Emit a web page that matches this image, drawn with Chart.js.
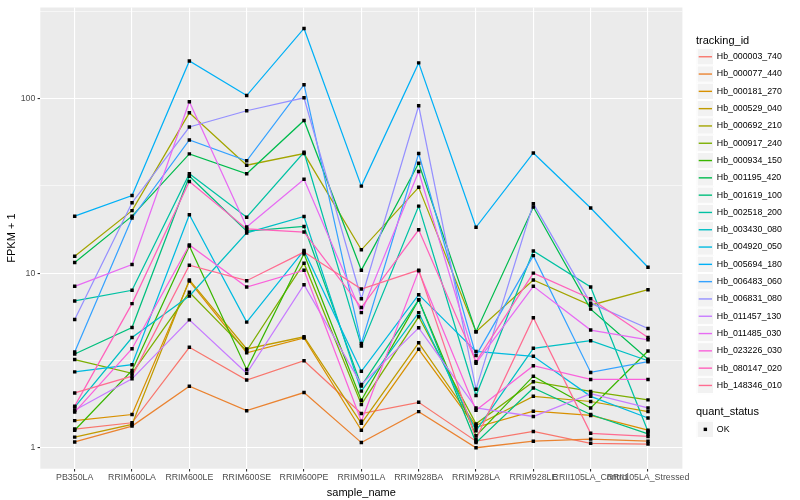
<!DOCTYPE html>
<html>
<head>
<meta charset="utf-8">
<script src="https://cdn.jsdelivr.net/npm/chart.js@4.4.0/dist/chart.umd.min.js"></script>
<style>
  html, body { margin: 0; padding: 0; background: #fff; }
  #wrap { width: 800px; height: 500px; }
</style>
</head>
<body>
<div id="wrap"><canvas id="chart" width="800" height="500"></canvas></div>
<script>
// Categories on the x axis.
const SAMPLES = ['PB350LA', 'RRIM600LA', 'RRIM600LE', 'RRIM600SE', 'RRIM600PE', 'RRIM901LA',
                 'RRIM928BA', 'RRIM928LA', 'RRIM928LE', 'RRII105LA_Control', 'RRII105LA_Stressed'];

const TRACKING_IDS = ['Hb_000003_740', 'Hb_000077_440', 'Hb_000181_270', 'Hb_000529_040', 'Hb_000692_210',
                      'Hb_000917_240', 'Hb_000934_150', 'Hb_001195_420', 'Hb_001619_100', 'Hb_002518_200',
                      'Hb_003430_080', 'Hb_004920_050', 'Hb_005694_180', 'Hb_006483_060', 'Hb_006831_080',
                      'Hb_011457_130', 'Hb_011485_030', 'Hb_023226_030', 'Hb_080147_020', 'Hb_148346_010'];

// FPKM + 1, one array per gene, in SAMPLES order.
const hb000003_740 = [1.28, 1.39, 3.76, 2.44, 3.15, 1.57, 1.82, 1.09, 1.24, 1.06, 1.05];
const hb000077_440 = [1.08, 1.33, 2.25, 1.63, 2.07, 1.07, 1.61, 1.00, 1.09, 1.12, 1.09];
const hb000181_270 = [1.43, 1.55, 9.0, 3.50, 4.25, 1.26, 3.66, 1.31, 1.62, 1.53, 1.26];
const hb000529_040 = [1.15, 1.36, 9.14, 3.68, 4.32, 1.38, 3.99, 1.34, 1.97, 1.84, 1.61];
const hb000692_210 = [12.5, 22.8, 82.8, 41.5, 48.4, 13.6, 31.0, 4.62, 9.14, 6.55, 8.04];
const hb000917_240 = [3.2, 2.67, 7.77, 3.59, 11.4, 1.77, 5.62, 1.37, 2.39, 2.10, 1.88];
const hb000934_150 = [1.26, 2.77, 14.3, 2.81, 12.9, 1.87, 7.03, 1.17, 2.57, 1.69, 3.58];
const hb001195_420 = [11.5, 21.2, 48.2, 37.1, 74.9, 10.4, 42.6, 4.62, 23.9, 6.22, 3.21];
const hb001619_100 = [3.44, 4.88, 35.9, 17.4, 18.5, 2.26, 7.03, 1.07, 2.2, 1.55, 1.2];
const hb002518_200 = [6.93, 7.98, 37.1, 20.9, 49.2, 3.83, 24.2, 1.99, 13.4, 8.33, 1.24];
const hb003430_080 = [1.71, 4.28, 7.4, 17.0, 21.1, 2.11, 5.94, 1.25, 3.71, 4.10, 3.15];
const hb004920_050 = [2.72, 2.99, 21.6, 5.24, 13.5, 2.74, 7.53, 3.56, 3.34, 1.97, 1.48];
const hb005694_180 = [21.2, 27.8, 164, 104, 252, 31.5, 160, 18.3, 48.8, 23.6, 10.8];
const hb006483_060 = [3.53, 20.7, 57.9, 44.0, 120, 3.96, 48.4, 3.37, 12.6, 2.70, 3.11];
const hb006831_080 = [5.42, 25.3, 68.7, 85.1, 101, 7.14, 90.8, 2.16, 25.0, 6.73, 4.82];
const hb011457_130 = [1.64, 2.48, 5.4, 2.67, 8.59, 2.30, 4.86, 1.69, 1.51, 2.04, 1.69];
const hb011485_030 = [8.4, 11.2, 95.8, 18.4, 34.5, 5.94, 38.2, 3.05, 8.41, 4.72, 4.15];
const hb023226_030 = [1.60, 3.69, 14.5, 8.33, 10.4, 1.42, 10.3, 1.64, 2.95, 2.46, 2.46];
const hb080147_020 = [1.73, 6.69, 33.5, 17.9, 17.2, 6.35, 17.7, 3.11, 10.0, 7.14, 4.28];
const hb148346_010 = [2.06, 2.57, 11.1, 9.05, 13.2, 8.11, 10.4, 1.12, 5.55, 1.21, 1.16];

const SERIES = [hb000003_740, hb000077_440, hb000181_270, hb000529_040, hb000692_210,
                hb000917_240, hb000934_150, hb001195_420, hb001619_100, hb002518_200,
                hb003430_080, hb004920_050, hb005694_180, hb006483_060, hb006831_080,
                hb011457_130, hb011485_030, hb023226_030, hb080147_020, hb148346_010];

// y axis breaks (labelled) and minor breaks (grid only).
const Y_BREAKS = [1, 10, 100];
const Y_MINOR  = [0.3162, 3.162, 31.62, 316.2];

// ggplot default hue palette for 20 levels.
const PALETTE = ['#F8766D', '#EA8331', '#D89000', '#C09B00', '#A3A500', '#7CAE00', '#39B600', '#00BB4E',
                 '#00BF7D', '#00C1A3', '#00BFC4', '#00BAE0', '#00B0F6', '#35A2FF', '#9590FF', '#C77CFF',
                 '#E76BF3', '#FA62DB', '#FF62BC', '#FF6C91'];

const FONT = '"Liberation Sans", Arial, Helvetica, sans-serif';

// Log range of the data plus ggplot's 5% expansion.
const allLogs = SERIES.flat().map(v => Math.log10(v));
const lo = Math.min(...allLogs), hi = Math.max(...allLogs);
const pad = (hi - lo) * 0.05;

// Grey panel behind the grid.
const panelBg = {
    id: 'panelBg',
    beforeDraw(chart) {
        const { ctx, chartArea: a } = chart;
        ctx.save();
        ctx.fillStyle = '#FFFFFF';
        ctx.fillRect(0, 0, chart.width, chart.height);
        ctx.fillStyle = '#EBEBEB';
        ctx.fillRect(a.left, a.top, a.right - a.left, a.bottom - a.top);
        ctx.restore();
    }
};

// ggplot style legend on the right: tracking_id keys, then quant_status.
const ggLegend = {
    id: 'ggLegend',
    afterDraw(chart) {
        const ctx = chart.ctx;
        const keyX = 696.7, keySize = 17.3, firstTop = 48.1, textX = 716.8;
        ctx.save();
        ctx.textBaseline = 'middle';
        ctx.textAlign = 'left';

        ctx.fillStyle = '#000';
        ctx.font = `11px ${FONT}`;
        ctx.fillText('tracking_id', 696, 40.5);

        ctx.font = `8.8px ${FONT}`;
        TRACKING_IDS.forEach((id, i) => {
            const top = firstTop + i * keySize;
            ctx.fillStyle = '#F2F2F2';
            ctx.fillRect(keyX, top, keySize, keySize);
            ctx.strokeStyle = '#FFFFFF';
            ctx.lineWidth = 1;
            ctx.strokeRect(keyX + 0.5, top + 0.5, keySize - 1, keySize - 1);

            ctx.strokeStyle = PALETTE[i];
            ctx.lineWidth = 1.4;
            ctx.beginPath();
            ctx.moveTo(keyX + 2, top + keySize / 2);
            ctx.lineTo(keyX + keySize - 2, top + keySize / 2);
            ctx.stroke();

            ctx.fillStyle = '#000';
            ctx.fillText(id, textX, top + keySize / 2);
        });

        const qTitleY = 412.3;
        ctx.font = `11px ${FONT}`;
        ctx.fillText('quant_status', 696, qTitleY);

        const qTop = 420.7;
        ctx.fillStyle = '#F2F2F2';
        ctx.fillRect(keyX, qTop, keySize, keySize);
        ctx.strokeStyle = '#FFFFFF';
        ctx.lineWidth = 1;
        ctx.strokeRect(keyX + 0.5, qTop + 0.5, keySize - 1, keySize - 1);
        ctx.fillStyle = '#000';
        ctx.fillRect(keyX + keySize / 2 - 1.7, qTop + keySize / 2 - 1.7, 3.4, 3.4);
        ctx.font = `8.8px ${FONT}`;
        ctx.fillText('OK', textX, qTop + keySize / 2);
        ctx.restore();
    }
};

const lineSets = SERIES.map((vals, i) => ({
    label: TRACKING_IDS[i],
    data: vals.map((v, j) => ({ x: j, y: v })),
    borderColor: PALETTE[i],
    borderWidth: 1.25,
    pointRadius: 0,
    fill: false,
    tension: 0,
    order: SERIES.length - i
}));

// All the points go on top of all lines, as in geom_point after geom_line.
const pointSet = {
    label: 'OK',
    data: SERIES.flatMap(vals => vals.map((v, j) => ({ x: j, y: v }))),
    showLine: false,
    pointStyle: 'rect',
    pointRadius: 2.45,
    pointBackgroundColor: '#000',
    pointBorderWidth: 0,
    order: -1
};

new Chart(document.getElementById('chart'), {
    type: 'line',
    data: { datasets: [...lineSets, pointSet] },
    plugins: [panelBg, ggLegend],
    options: {
        responsive: false,
        animation: false,
        layout: { padding: { left: 0, right: 117.6, top: 5.5, bottom: 0 } },
        plugins: { legend: { display: false }, tooltip: { enabled: false } },
        scales: {
            x: {
                type: 'linear',
                min: -0.6,
                max: SAMPLES.length - 1 + 0.6,
                afterBuildTicks: s => { s.ticks = SAMPLES.map((_, i) => ({ value: i })); },
                afterFit: s => { s.height = 31.3; },
                ticks: {
                    callback: v => SAMPLES[v] ?? '',
                    autoSkip: false, maxRotation: 0, minRotation: 0,
                    color: '#4D4D4D', font: { family: FONT, size: 8.8 }, padding: 1
                },
                grid: { color: '#FFFFFF', lineWidth: 1.1, tickColor: '#333333', tickLength: 2.7 },
                border: { display: false },
                title: { display: true, text: 'sample_name', color: '#000',
                         font: { family: FONT, size: 11 }, padding: { top: 5.4, bottom: 0 } }
            },
            y: {
                type: 'logarithmic',
                min: Math.pow(10, lo - pad),
                max: Math.pow(10, hi + pad),
                afterBuildTicks: s => {
                    s.ticks = [...Y_MINOR, ...Y_BREAKS]
                        .filter(v => v >= s.min && v <= s.max)
                        .sort((a, b) => a - b)
                        .map(v => ({ value: v }));
                },
                afterFit: s => { s.width = 40.3; },
                ticks: {
                    callback: v => Y_BREAKS.includes(v) ? String(v) : '',
                    autoSkip: false,
                    color: '#4D4D4D', font: { family: FONT, size: 8.8 }, padding: 2.2
                },
                grid: {
                    color: '#FFFFFF',
                    lineWidth: c => (c.tick && Y_BREAKS.includes(c.tick.value)) ? 1.1 : 0.55,
                    tickColor: c => (c.tick && Y_BREAKS.includes(c.tick.value)) ? '#333333' : 'rgba(0,0,0,0)',
                    tickLength: 2.7
                },
                border: { display: false },
                title: { display: true, text: 'FPKM + 1', color: '#000',
                         font: { family: FONT, size: 11 }, padding: { top: 5.4, bottom: 0 } }
            }
        }
    }
});
</script>
</body>
</html>
